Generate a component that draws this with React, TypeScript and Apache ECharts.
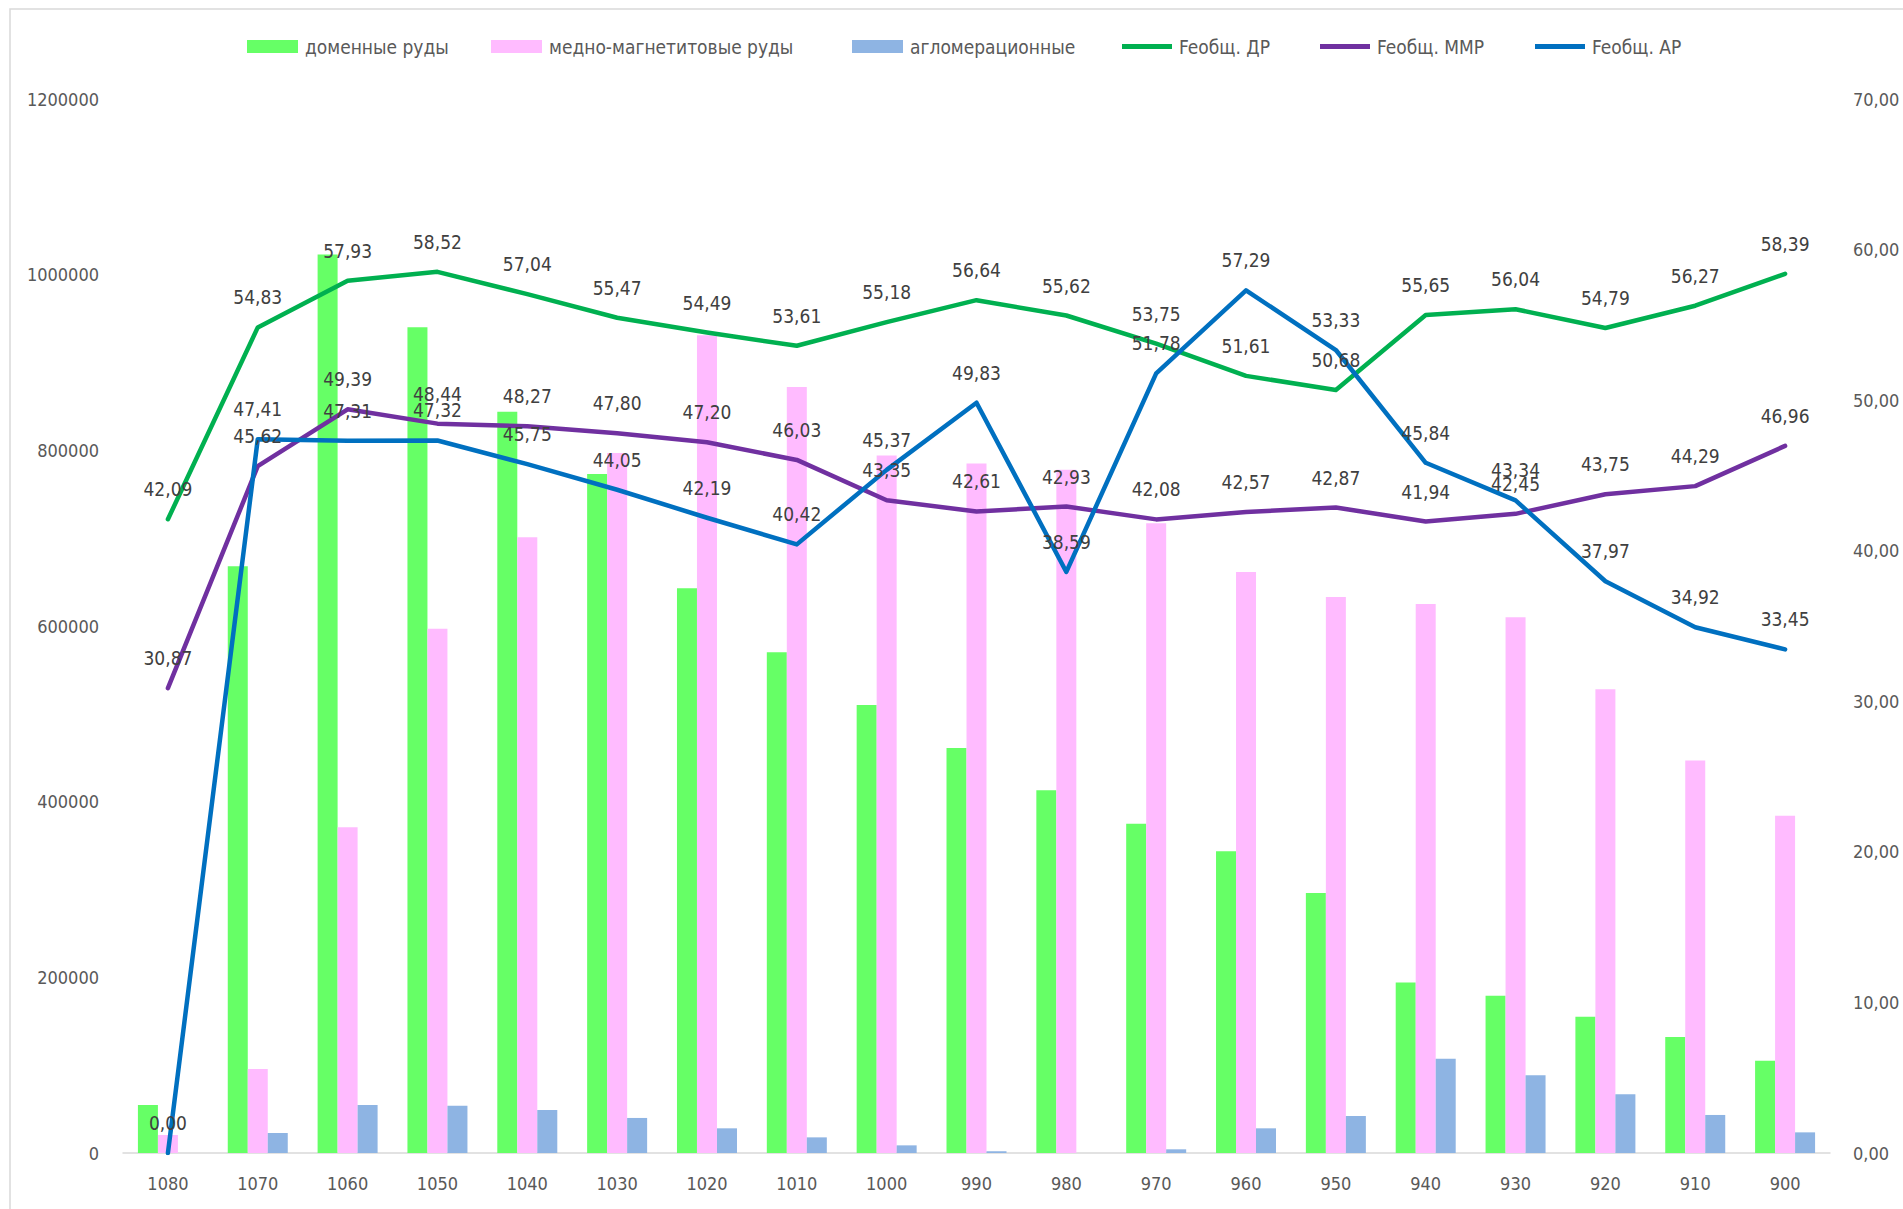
import React, { useEffect, useRef } from "react";
import * as echarts from "echarts";

const categories = ["1080", "1070", "1060", "1050", "1040", "1030", "1020", "1010", "1000", "990", "980", "970", "960", "950", "940", "930", "920", "910", "900"];

const domennye = [54600, 668000, 1023000, 940000, 844000, 773000, 643000, 570000, 510000, 461000, 413000, 375000, 343500, 296000, 194000, 179000, 155000, 132000, 105000];
const mednoMagn = [20500, 95600, 371000, 597000, 701000, 797000, 931000, 872000, 794000, 785000, 778000, 717000, 661500, 633000, 625000, 610000, 528000, 447000, 384000];
const aglom = [0, 22800, 54600, 53900, 49000, 39900, 28100, 17800, 8700, 2000, 0, 4200, 28100, 42100, 107400, 88400, 66800, 43300, 23500];

const feDR = [42.09, 54.83, 57.93, 58.52, 57.04, 55.47, 54.49, 53.61, 55.18, 56.64, 55.62, 53.75, 51.61, 50.68, 55.65, 56.04, 54.79, 56.27, 58.39];
const feMMR = [30.87, 45.62, 49.39, 48.44, 48.27, 47.80, 47.20, 46.03, 43.35, 42.61, 42.93, 42.08, 42.57, 42.87, 41.94, 42.45, 43.75, 44.29, 46.96];
const feAR = [0.0, 47.41, 47.31, 47.32, 45.75, 44.05, 42.19, 40.42, 45.37, 49.83, 38.59, 51.78, 57.29, 53.33, 45.84, 43.34, 37.97, 34.92, 33.45];

const leftTicks = { min: 0, max: 1200000, interval: 200000 };
const rightTicks = { min: 0, max: 70, interval: 10 };

const FONT = "'DejaVu Sans Condensed', 'DejaVu Sans', sans-serif";
const AXIS_COLOR = "#595959";
const LABEL_COLOR = "#404040";

const fmt = (v: number) => v.toFixed(2).replace(".", ",");

export default function App() {
  const ref = useRef<HTMLDivElement>(null);

  useEffect(() => {
    if (!ref.current) return;
    const chart = echarts.init(ref.current, undefined, { renderer: "svg" });

    const legendItem = (name: string, left: number, isLine: boolean) => ({
      data: [name],
      left,
      top: 37,
      padding: 0,
      icon: "rect",
      itemWidth: isLine ? 50 : 51,
      itemHeight: isLine ? 5 : 13,
      textStyle: { color: AXIS_COLOR, fontSize: 19, fontFamily: FONT, padding: [0, 0, 0, 2] },
    });

    const lineSeries = (name: string, data: number[], color: string) => ({
      name,
      type: "line",
      yAxisIndex: 1,
      data,
      symbol: "circle",
      symbolSize: 1,
      z: 5,
      itemStyle: { color },
      lineStyle: { color, width: 4.5, cap: "round", join: "round" },
      label: {
        show: true,
        position: "top",
        distance: 20,
        color: LABEL_COLOR,
        fontSize: 19,
        fontFamily: FONT,
        formatter: (p: any) => fmt(p.value),
      },
    });

    chart.setOption({
      animation: false,
      backgroundColor: "#ffffff",
      textStyle: { fontFamily: FONT },
      graphic: [
        {
          type: "rect",
          silent: true,
          z: -10,
          shape: { x: 10, y: 9, width: 2000, height: 1300 },
          style: { fill: "none", stroke: "#D9D9D9", lineWidth: 1.5 },
        },
      ],
      legend: [
        legendItem("доменные руды", 247, false),
        legendItem("медно-магнетитовые руды", 491, false),
        legendItem("агломерационные", 852, false),
        legendItem("Feобщ. ДР", 1122, true),
        legendItem("Feобщ. ММР", 1320, true),
        legendItem("Feобщ. АР", 1535, true),
      ],
      grid: { left: 123, right: 73, top: 99, bottom: 56, containLabel: false },
      xAxis: {
        type: "category",
        data: categories,
        boundaryGap: true,
        axisLine: { lineStyle: { color: "#D9D9D9", width: 1.5 } },
        axisTick: { show: false },
        axisLabel: { color: AXIS_COLOR, fontSize: 18, fontFamily: FONT, margin: 21 },
      },
      yAxis: [
        {
          type: "value",
          min: leftTicks.min,
          max: leftTicks.max,
          interval: leftTicks.interval,
          axisLine: { show: false },
          axisTick: { show: false },
          splitLine: { show: false },
          axisLabel: {
            color: AXIS_COLOR,
            fontSize: 18,
            fontFamily: FONT,
            margin: 24,
            formatter: (v: number) => String(Math.round(v)),
          },
        },
        {
          type: "value",
          position: "right",
          min: rightTicks.min,
          max: rightTicks.max,
          interval: rightTicks.interval,
          axisLine: { show: false },
          axisTick: { show: false },
          splitLine: { show: false },
          axisLabel: {
            color: AXIS_COLOR,
            fontSize: 18,
            fontFamily: FONT,
            margin: 23,
            formatter: (v: number) => fmt(v),
          },
        },
      ],
      series: [
        { name: "доменные руды", type: "bar", data: domennye, barWidth: 20, barGap: "0%", itemStyle: { color: "#66FF66" } },
        { name: "медно-магнетитовые руды", type: "bar", data: mednoMagn, barWidth: 20, barGap: "0%", itemStyle: { color: "#FFBBFF" } },
        { name: "агломерационные", type: "bar", data: aglom, barWidth: 20, barGap: "0%", itemStyle: { color: "#8EB4E3" } },
        lineSeries("Feобщ. ДР", feDR, "#00B050"),
        lineSeries("Feобщ. ММР", feMMR, "#7030A0"),
        lineSeries("Feобщ. АР", feAR, "#0070C0"),
      ],
    });

    return () => chart.dispose();
  }, []);

  return (
    <div
      ref={ref}
      style={{ position: "absolute", left: 0, top: 0, width: 1903, height: 1209 }}
    />
  );
}
